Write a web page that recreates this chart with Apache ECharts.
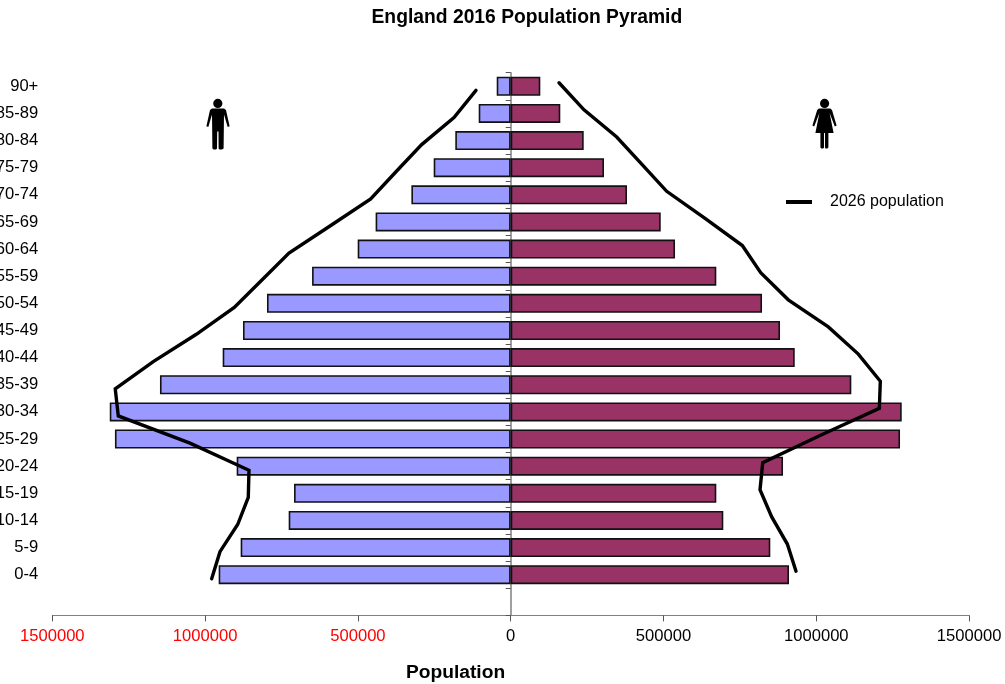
<!DOCTYPE html>
<html>
<head>
<meta charset="utf-8">
<style>html,body{margin:0;padding:0;background:#fff}#c{width:1005px;height:684px}</style>
<script src="https://cdn.jsdelivr.net/npm/echarts@6/dist/echarts.min.js"></script>
</head>
<body>
<div id="c"></div>
<script>
const ageGroups = ['0-4','5-9','10-14','15-19','20-24','25-29','30-34','35-39','40-44','45-49','50-54','55-59','60-64','65-69','70-74','75-79','80-84','85-89','90+'];
const male2016 = [955600,883600,726500,709000,896700,1295000,1312000,1147700,942500,876000,797500,650000,500700,442000,325000,252000,181300,104700,45800];
const female2016 = [910700,849500,695700,672800,891100,1274000,1279500,1114600,929400,881300,822400,672800,537700,490900,380600,305300,238900,162300,96900];
const male2026 = [978500,951300,893400,858700,856400,1049500,1284100,1294000,1169600,1029900,904500,814900,725500,591300,458200,375400,291300,185600,113600];
const female2026 = [933600,905200,854100,815800,824700,1012200,1206300,1209500,1137500,1039300,908400,818100,757900,635900,510500,428700,346900,239900,158100];
const FONT = '"Liberation Sans", Arial, sans-serif';
const categories = [''].concat(ageGroups);
const lineName = '2026 population';

const chart = echarts.init(document.getElementById('c'), null, {renderer:'canvas'});
const barStyle = c => ({color:c, borderColor:'#111', borderWidth:1.6});
const black = {fill:'#000'};
const manIcon = [
  {type:'circle', shape:{cx:217.8, cy:103.4, r:4.6}, style:black},
  {type:'polygon', shape:{points:[[212,108.6],[224,108.6],[226,110],[229.6,126.2],[227.7,127],[224,114.6],[223.6,148.6],[222,149.6],[219.4,149.6],[218.6,148.6],[218.5,131.5],[217.2,131.5],[217,148.6],[216,149.6],[213.6,149.6],[212.4,148.6],[212,114.6],[208.3,127],[206.4,126.2],[210,110]]}, style:black}
];
const womanIcon = [
  {type:'circle', shape:{cx:824.6, cy:103.4, r:4.6}, style:black},
  {type:'polygon', shape:{points:[[819,108.4],[830.3,108.4],[832,110],[836.6,125.4],[834.8,126.4],[829.6,113],[833.6,133],[828.4,133],[828.4,147.6],[827.4,148.6],[825.6,148.6],[825,147.6],[825,133],[824,133],[824,147.6],[823.2,148.6],[821.2,148.6],[820.4,147.6],[820.4,133],[815.4,133],[819.4,113],[814.2,126.4],[812.4,125.4],[817.2,110]]}, style:black}
];

chart.setOption({
  animation:false,
  backgroundColor:'#fff',
  textStyle:{fontFamily:FONT},
  title:[
    {text:'England 2016 Population Pyramid', left:366.5, top:3.5, textStyle:{fontFamily:FONT, fontSize:19.3, fontWeight:'bold', color:'#000'}},
    {text:'Population', left:401, top:658, textStyle:{fontFamily:FONT, fontSize:19.2, fontWeight:'bold', color:'#000'}}
  ],
  legend:{
    data:[{name:lineName, icon:'rect'}], left:786, top:194, itemWidth:26, itemHeight:4, padding:0,
    textStyle:{fontFamily:FONT, fontSize:16, color:'#000', padding:[2,0,0,13]}
  },
  grid:{left:52.3, right:35.9, top:72.7, bottom:68.6, containLabel:false, outerBoundsMode:'none'},
  xAxis:{
    type:'value', min:-1500000, max:1500000, interval:500000,
    axisLine:{show:true, onZero:false, lineStyle:{color:'#808080', width:1}},
    axisTick:{show:true, length:6, lineStyle:{color:'#555'}},
    splitLine:{show:false},
    axisLabel:{margin:13, fontSize:16.6, fontFamily:FONT,
      formatter:v=>String(Math.abs(v)),
      color:v=>(Number(v)<0?'#FF0000':'#000')}
  },
  yAxis:[
    {type:'category', data:categories, position:'left',
      axisLine:{show:false, onZero:false}, axisTick:{show:false}, splitLine:{show:false},
      axisLabel:{interval:0, margin:14, fontSize:16.6, fontFamily:FONT, color:'#000', padding:[2,0,0,0]}},
    {type:'category', data:categories, position:'left',
      axisLine:{show:true, onZero:true, lineStyle:{color:'#808080', width:1.5}},
      axisTick:{show:true, length:5, lineStyle:{color:'#555'}},
      splitLine:{show:false}, axisLabel:{show:false}},
    {type:'value', show:false, min:-0.5, max:19.5, splitLine:{show:false}}
  ],
  series:[
    {name:'Male', type:'bar', stack:'p', yAxisIndex:0, barWidth:19, itemStyle:barStyle('#9999FF'),
      data:[null].concat(male2016.map(v=>-v))},
    {name:'Female', type:'bar', stack:'p', yAxisIndex:0, barWidth:19, itemStyle:barStyle('#993366'),
      data:[null].concat(female2016)},
    {name:lineName, type:'line', yAxisIndex:2, symbol:'none', z:5, color:'#000', itemStyle:{color:'#000'},
      lineStyle:{color:'#000', width:3.4, cap:'round', join:'miter'},
      data:male2026.map((v,i)=>[-v, i+1-0.15])},
    {name:lineName, type:'line', yAxisIndex:2, symbol:'none', z:5, color:'#000', itemStyle:{color:'#000'},
      lineStyle:{color:'#000', width:3.4, cap:'round', join:'miter'},
      data:female2026.map((v,i)=>[v, i+1+0.13])}
  ],
  graphic:manIcon.concat(womanIcon)
});
</script>
</body>
</html>
